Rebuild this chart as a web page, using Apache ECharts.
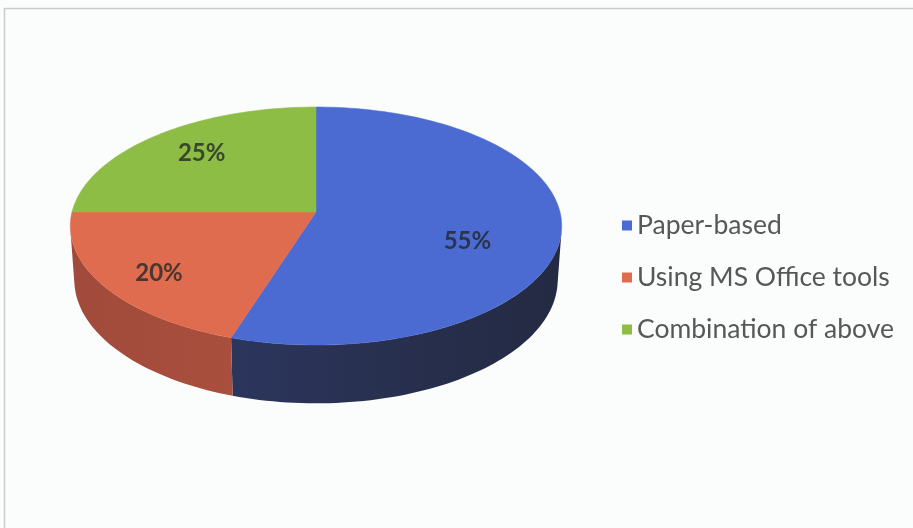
<!DOCTYPE html>
<html>
<head>
<meta charset="utf-8">
<script src="https://cdn.jsdelivr.net/npm/echarts@6/dist/echarts.min.js"></script>
<style>
  html, body { margin: 0; padding: 0; background: #fbfcfc; }
  #chart { width: 913px; height: 528px; }
</style>
</head>
<body>
<div id="chart"></div>
<script>
// Survey answers: how the work is currently done
const categories = ['Paper-based', 'Using MS Office tools', 'Combination of above'];
const shares = [55, 20, 25];

// Face and wall colours for each slice
const topColors = ['#4b6bd2', '#e06c4f', '#8dbd45'];
const wallColors = [['#303b6a', '#242a42'], ['#a04a3b', '#bb5843'], ['#6a8c34', '#5d7c2e']];

// Where each percentage label sits on its slice (radius fraction, angle nudge in degrees)
const labelRadius = [0.65, 0.78, 0.73];
const labelNudge = [13, -3, 2];

// Simple perspective camera looking down on a flat disc
const cam = { cx: 316, cy: 212, f: 1816.6, d: 7.445, sin: 0.481, cos: 0.877, thick: 0.255 };

function project(u, v, h) {
  const z = cam.d - v * cam.cos + h * cam.sin;
  return [cam.cx + cam.f * u / z, cam.cy + cam.f * (v * cam.sin + h * cam.cos) / z];
}
// angle measured clockwise from 12 o'clock
function rimPoint(phi, r, h) {
  return project(r * Math.sin(phi), -r * Math.cos(phi), h);
}

// The rim wall faces the camera only where -cos(phi) > 1 / (d * cos)
const wallLimit = Math.acos(-1 / (cam.d * cam.cos));
const wallFrom = wallLimit;
const wallTo = Math.PI * 2 - wallLimit;

const total = shares.reduce((a, b) => a + b, 0);
const starts = [];
let acc = 0;
shares.forEach(s => { starts.push(acc); acc += s; });

function arc(a0, a1, h, steps) {
  const pts = [];
  for (let k = 0; k <= steps; k++) {
    pts.push(rimPoint(a0 + (a1 - a0) * k / steps, 1, h));
  }
  return pts;
}

function makeRender(idx) {
  return function (params, api) {
    const value = api.value(0);
    const a0 = starts[idx] / total * Math.PI * 2;
    const a1 = a0 + value / total * Math.PI * 2;
    const steps = Math.max(8, Math.ceil((a1 - a0) / (Math.PI * 2) * 240));

    const children = [];

    // visible part of the outer wall
    const w0 = Math.max(a0, wallFrom);
    const w1 = Math.min(a1, wallTo);
    if (w1 > w0) {
      const ws = Math.max(8, Math.ceil((w1 - w0) / (Math.PI * 2) * 240));
      const wallPts = arc(w0, w1, 0, ws).concat(arc(w0, w1, cam.thick, ws).reverse());
      children.push({
        type: 'polygon',
        shape: { points: wallPts },
        style: {
          fill: new echarts.graphic.LinearGradient(60, 0, 560, 0, [
            { offset: 0, color: wallColors[idx][0] },
            { offset: 1, color: wallColors[idx][1] }
          ], true),
          stroke: null
        },
        z2: 1
      });
    }

    const topPts = [project(0, 0, 0)].concat(arc(a0, a1, 0, steps));
    children.push({
      type: 'polygon',
      shape: { points: topPts },
      style: { fill: topColors[idx], stroke: topColors[idx], lineWidth: 0.5 },
      z2: 2
    });

    const mid = (a0 + a1) / 2 + labelNudge[idx] * Math.PI / 180;
    const lp = rimPoint(mid, labelRadius[idx], 0);
    children.push({
      type: 'text',
      x: lp[0],
      y: lp[1],
      style: {
        text: value + '%',
        fill: 'rgba(32,38,38,0.78)',
        font: 'bold 24px Lato',
        align: 'center',
        verticalAlign: 'middle'
      },
      z2: 3
    });

    return { type: 'group', children: children };
  };
}

const series = categories.map((name, i) => ({
  type: 'custom',
  name: name,
  coordinateSystem: 'none',
  silent: true,
  animation: false,
  itemStyle: { color: topColors[i] },
  renderItem: makeRender(i),
  data: [[shares[i]]]
}));

const chart = echarts.init(document.getElementById('chart'), null, { renderer: 'canvas' });
chart.setOption({
  backgroundColor: '#fbfcfc',
  animation: false,
  graphic: [
    {
      type: 'polyline',
      shape: { points: [[4.5, 528], [4.5, 8.5], [913, 8.5]] },
      style: { stroke: '#c9cbcc', lineWidth: 1.5, fill: null },
      silent: true
    }
  ],
  legend: {
    orient: 'vertical',
    left: 617,
    top: 207,
    itemWidth: 10,
    itemHeight: 10,
    itemGap: 25,
    icon: 'rect',
    selectedMode: false,
    textStyle: { fontFamily: 'Lato', fontSize: 26.5, lineHeight: 26, color: '#575757', padding: [0, 0, 0, 0] },
    data: categories
  },
  series: series
});
</script>
</body>
</html>
